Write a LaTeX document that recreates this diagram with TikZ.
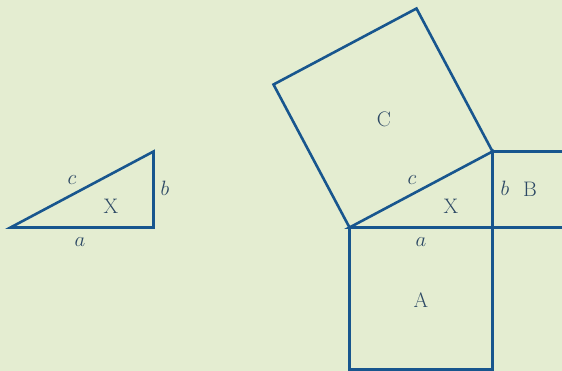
\documentclass[tikz,border=0pt]{standalone}
\definecolor{bgGreen}{RGB}{228,237,209}
\definecolor{lineBlue}{RGB}{24,86,142}
\definecolor{labelBlue}{RGB}{44,72,100}
\begin{document}
\begin{tikzpicture}[x=1pt, y=-1pt, font=\fontsize{21}{24}\selectfont,
  edge/.style={draw=lineBlue, line width=2.6pt, line join=miter},
  lbl/.style={text=labelBlue, inner sep=0pt}]
  % Background
  \fill[bgGreen] (0,0) rectangle (562,371);
  \useasboundingbox (0,0) rectangle (562,371);
  \clip (0,0) rectangle (562,371);
  % Left triangle
  \draw[edge] (10.5,227.5) -- (153.5,227.5) -- (153.5,151.5) -- cycle;
  % Labels left triangle
  \node[lbl] (lc) at (72,180) {$c$};
  \node[lbl] (lX) at (111,206) {X};
  \node[lbl] (lb) at (165,188) {$b$};
  \node[lbl] (la) at (80,242) {$a$};
  % Square A (below)
  \draw[edge] (349.5,227.5) rectangle (492.5,369.5);
  % Square B (right)
  \draw[edge] (492.5,151.5) rectangle (568.5,227.5);
  % Square C (on hypotenuse)
  \draw[edge] (349.5,227.5) -- (273.5,84.5) -- (416.5,8.5) -- (492.5,151.5);
  % Right triangle
  \draw[edge] (349.5,227.5) -- (492.5,227.5) -- (492.5,151.5) -- cycle;
  % Labels right figure
  \node[lbl] (C) at (384,119) {C};
  \node[lbl] (rc) at (412,180) {$c$};
  \node[lbl] (rX) at (451,206) {X};
  \node[lbl] (rb) at (505,188) {$b$};
  \node[lbl] (B) at (530,189) {B};
  \node[lbl] (ra) at (421,242) {$a$};
  \node[lbl] (A) at (421,300) {A};
\end{tikzpicture}
\end{document}
